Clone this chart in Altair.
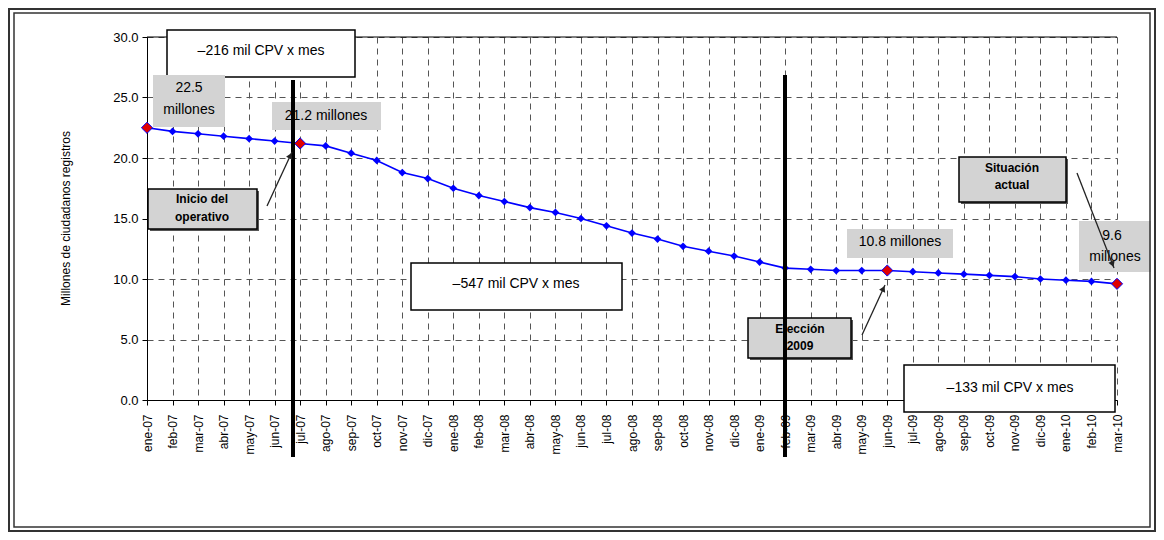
import math
import altair as alt
import pandas as pd

# ---------------- data ----------------
months = [
    "ene-07", "feb-07", "mar-07", "abr-07", "may-07", "jun-07", "jul-07", "ago-07", "sep-07", "oct-07", "nov-07", "dic-07",
    "ene-08", "feb-08", "mar-08", "abr-08", "may-08", "jun-08", "jul-08", "ago-08", "sep-08", "oct-08", "nov-08", "dic-08",
    "ene-09", "feb-09", "mar-09", "abr-09", "may-09", "jun-09", "jul-09", "ago-09", "sep-09", "oct-09", "nov-09", "dic-09",
    "ene-10", "feb-10", "mar-10",
]
values = [
    22.5, 22.2, 22.0, 21.8, 21.6, 21.4, 21.2, 21.0, 20.4, 19.8, 18.8, 18.3,
    17.5, 16.9, 16.4, 15.9, 15.5, 15.0, 14.4, 13.8, 13.3, 12.7, 12.3, 11.9,
    11.4, 10.9, 10.8, 10.7, 10.7, 10.7, 10.6, 10.5, 10.4, 10.3, 10.2, 10.0,
    9.9, 9.8, 9.6,
]
highlight_months = ["ene-07", "jul-07", "jun-09", "mar-10"]
y_ticks = [0, 5, 10, 15, 20, 25, 30]
y_title = "Millones de ciudadanos registros"

# ---------------- layout ----------------
W, H = 970, 363
PAD_L, PAD_T = 139, 29
TOT_W, TOT_H = 1164 - 16, 540 - 16
X0, Y0 = 8 + PAD_L, 8 + PAD_T          # page position of plot origin
NX = len(months) - 1
YMAX = 30
PPX = W / NX
PPY = H / YMAX
FONT = "Liberation Sans"


def dx(px):   # page px -> x data units
    return (px - X0) / PPX


def dy(py):   # page px -> y data units
    return (Y0 + H - py) / PPY


df = pd.DataFrame({"x": list(range(len(months))), "y": values, "mes": months})
df_hi = df[df["mes"].isin(highlight_months)]

xscale = alt.Scale(domain=[0, NX], nice=False, zero=False)
yscale = alt.Scale(domain=[0, YMAX], nice=False)

label_expr = "[" + ",".join("'%s'" % m for m in months) + "][datum.value]"

x_axis = alt.Axis(
    values=list(range(len(months))), labelExpr=label_expr, title=None,
    labelAngle=270, labelFontSize=12, labelFont=FONT, labelColor="black",
    labelPadding=9, tickSize=5, tickColor="black", domainColor="black",
    grid=True, gridDash=[6, 5], gridColor="#555555", gridWidth=1, zindex=0,
    labelOverlap=False, tickCount=len(months),
)
y_axis = alt.Axis(
    values=y_ticks, format=".1f", title=y_title, labelFontSize=13, labelFont=FONT,
    labelColor="black", tickSize=5, tickColor="black", domainColor="black",
    labelPadding=4,
    grid=True, gridDash=[6, 5], gridColor="#555555", gridWidth=1,
    titleFont=FONT, titleFontSize=12, titleFontWeight="normal", titleColor="black",
    titleAngle=270, titleX=-82, titleY=181, titleAlign="center", titleBaseline="middle",
    zindex=0,
)


def X(f):
    return alt.X(f, type="quantitative", scale=xscale, axis=x_axis)


def Y(f):
    return alt.Y(f, type="quantitative", scale=yscale, axis=y_axis)


# ---------------- annotation boxes (page px) ----------------
GRAY = "#d3d3d3"
boxes_px = [
    # x1, x2, y1, y2, fill, stroke, shadow
    (167, 355, 30, 77, "white", "black", False),
    (153, 225, 75, 127, GRAY, None, False),
    (272, 381, 102, 130, GRAY, None, False),
    (148, 257, 189, 229, GRAY, "black", True),
    (411, 622, 263, 310, "white", "black", False),
    (748, 851, 318, 358, GRAY, "black", True),
    (847, 953, 229, 258, GRAY, None, False),
    (959, 1066, 157, 202, GRAY, "black", True),
    (1079, 1151, 221, 272, GRAY, None, False),
    (904, 1115, 365, 412, "white", "black", False),
]
box_df = pd.DataFrame([
    {"x": dx(a), "x2": dx(b), "y": dy(c), "y2": dy(d), "fill": f,
     "stroke": s if s else f, "sw": 1.5 if s else 0}
    for a, b, c, d, f, s, sh in boxes_px
])
shadow_df = pd.DataFrame([
    {"x": dx(a + 2), "x2": dx(b + 2), "y": dy(c + 2), "y2": dy(d + 2)}
    for a, b, c, d, f, s, sh in boxes_px if sh
])

texts_px = [
    # cx, cy, text, size, bold
    (261, 51, "–216 mil CPV x mes", 14, False),
    (189, 88, "22.5", 14, False),
    (189, 110, "millones", 14, False),
    (326, 116, "21.2 millones", 14, False),
    (202, 199, "Inicio del", 12, True),
    (202, 217, "operativo", 12, True),
    (516, 284, "–547 mil CPV x mes", 14, False),
    (800, 329, "Elección", 12, True),
    (800, 346, "2009", 12, True),
    (900, 242, "10.8 millones", 14, False),
    (1012, 168, "Situación", 12, True),
    (1012, 185, "actual", 12, True),
    (1112, 236, "9.6", 14, False),
    (1115, 257, "millones", 14, False),
    (1010, 388, "–133 mil CPV x mes", 14, False),
]
text_df = pd.DataFrame([
    {"x": dx(a), "y": dy(b), "t": t, "fs": fs, "bold": bd} for a, b, t, fs, bd in texts_px
])

# vertical black markers (page px)
vlines_px = [(293, 80, 457), (785, 75, 457)]
vline_df = pd.DataFrame([{"x": dx(a), "y": dy(b), "y2": dy(c)} for a, b, c in vlines_px])

# arrows (page px): start -> tip
arrows_px = [((267, 206), (292, 152)), ((862, 335), (885, 285)), ((1077, 173), (1114, 268))]
arrow_rows, head_rows = [], []
for (sx, sy), (ex, ey) in arrows_px:
    arrow_rows.append({"x": dx(sx), "y": dy(sy), "x2": dx(ex), "y2": dy(ey)})
    ang = math.degrees(math.atan2(ex - sx, -(ey - sy))) % 360
    L = math.hypot(ex - sx, ey - sy)
    ux, uy = (ex - sx) / L, (ey - sy) / L
    head_rows.append({"x": dx(ex - ux * 4), "y": dy(ey - uy * 4), "ang": ang})
arrow_df = pd.DataFrame(arrow_rows)
head_df = pd.DataFrame(head_rows)

# ---------------- layers ----------------
base_axes = alt.Chart(df).mark_point(opacity=0).encode(x=X("x"), y=Y("y"))

top_rule = alt.Chart(pd.DataFrame({"x": [0], "x2": [NX], "y": [YMAX]})).mark_rule(
    color="black", strokeWidth=1.2
).encode(x=X("x"), x2="x2:Q", y=Y("y"))

shadows = alt.Chart(shadow_df).mark_rect(color="#555555").encode(
    x=X("x"), x2="x2:Q", y=Y("y"), y2="y2:Q"
)

boxes = alt.Chart(box_df).mark_rect().encode(
    x=X("x"), x2="x2:Q", y=Y("y"), y2="y2:Q",
    fill=alt.Fill("fill:N", scale=None),
    stroke=alt.Stroke("stroke:N", scale=None),
    strokeWidth=alt.StrokeWidth("sw:Q", scale=None),
)

texts_normal = alt.Chart(text_df[~text_df["bold"]]).mark_text(
    font=FONT, color="black", align="center", baseline="middle"
).encode(x=X("x"), y=Y("y"), text="t:N", size=alt.Size("fs:Q", scale=None))

texts_bold = alt.Chart(text_df[text_df["bold"]]).mark_text(
    font=FONT, color="black", align="center", baseline="middle", fontWeight="bold"
).encode(x=X("x"), y=Y("y"), text="t:N", size=alt.Size("fs:Q", scale=None))

line = alt.Chart(df).mark_line(color="#0000ff", strokeWidth=1.6).encode(x=X("x"), y=Y("y"))
pts = alt.Chart(df).mark_point(shape="diamond", filled=True, color="#0000ff", size=60, opacity=1).encode(
    x=X("x"), y=Y("y")
)
hi = alt.Chart(df_hi).mark_point(shape="diamond", filled=True, fill="#e00000", stroke="#0000ff",
                                 strokeWidth=1, size=125, opacity=1).encode(x=X("x"), y=Y("y"))

vlines = alt.Chart(vline_df).mark_rule(color="black", strokeWidth=4).encode(
    x=X("x"), y=Y("y"), y2="y2:Q"
)

arrows = alt.Chart(arrow_df).mark_rule(color="#222222", strokeWidth=1.3).encode(
    x=X("x"), y=Y("y"), x2="x2:Q", y2="y2:Q"
)
heads = alt.Chart(head_df).mark_point(shape="triangle-up", filled=True, color="#222222", size=45,
                                      opacity=1).encode(
    x=X("x"), y=Y("y"), angle=alt.Angle("ang:Q", scale=None)
)

one = pd.DataFrame({"a": [0]})
frame_outer = alt.Chart(one).mark_rect(filled=False, stroke="#333333", strokeWidth=2).encode(
    x=alt.value(9 - X0), x2=alt.value(8 + TOT_W - 1 - X0),
    y=alt.value(9 - Y0), y2=alt.value(8 + TOT_H - 1 - Y0)
)
frame_inner = alt.Chart(one).mark_rect(filled=False, stroke="#333333", strokeWidth=1.5).encode(
    x=alt.value(14 - X0), x2=alt.value(8 + TOT_W - 6 - X0),
    y=alt.value(13 - Y0), y2=alt.value(8 + TOT_H - 5 - Y0)
)

chart = alt.layer(
    base_axes, top_rule, shadows, boxes, texts_normal, texts_bold, line, pts, hi, vlines,
    arrows, heads, frame_outer, frame_inner,
).properties(
    width=W, height=H,
    autosize=alt.AutoSizeParams(type="none"),
    padding={"left": PAD_L, "top": PAD_T, "right": TOT_W - PAD_L - W, "bottom": TOT_H - PAD_T - H},
    background="white",
).configure_view(stroke=None)

chart.save("out.html", embed_options={"renderer": "svg", "actions": False})
